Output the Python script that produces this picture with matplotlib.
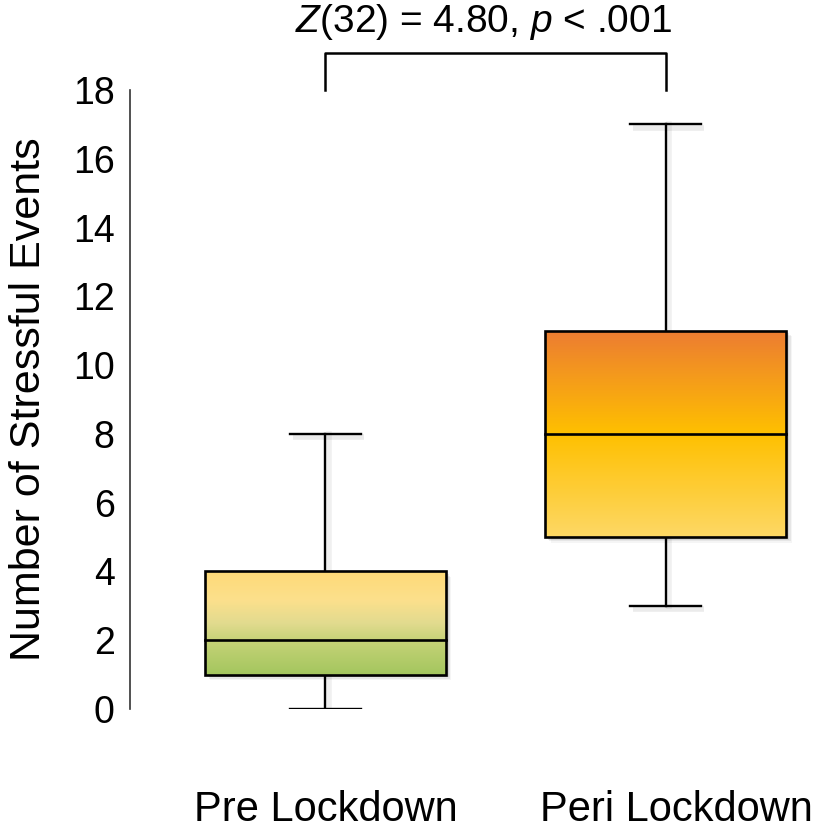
import numpy as np
import matplotlib
matplotlib.use("Agg")
import matplotlib.pyplot as plt
import matplotlib.transforms as mtransforms
from matplotlib.patches import Rectangle
from matplotlib.colors import LinearSegmentedColormap

plt.rcParams['font.family'] = ['Liberation Sans', 'DejaVu Sans']
plt.rcParams['mathtext.fontset'] = 'custom'
plt.rcParams['mathtext.rm'] = 'Liberation Sans'
plt.rcParams['mathtext.it'] = 'Liberation Sans:italic'

# box statistics
groups = ["Pre Lockdown", "Peri Lockdown"]
whisker_low = [0, 3]
q1 = [1, 5]
median = [2, 8]
q3 = [4, 11]
whisker_high = [8, 17]
stat_text = r"$Z$(32) = 4.80, $p$ < .001"

# gradient stops (bottom -> top) for each box
gradients = [
    [(0.0, "#A3C65E"), (0.33, "#C6D277"), (0.5, "#E2DB8F"), (0.72, "#FCE08C"), (1.0, "#FFDA78")],
    [(0.0, "#FDD865"), (0.5, "#FFC000"), (1.0, "#EC7C32")],
]

fig = plt.figure(figsize=(8.14, 8.31), dpi=100)
ax = fig.add_axes([130 / 814, 122 / 831, 1 - 130 / 814, (709 - 90) / 831])

box_w = 0.708
cap_w = 0.208
positions = [1, 2]
label_shift = [0.0, 0.032]

for i, x in enumerate(positions):
    x0 = x - box_w / 2
    # soft drop shadow
    for k, a in zip(range(1, 5), [0.10, 0.08, 0.06, 0.04]):
        ax.add_patch(Rectangle((x0 + 0.004 * k, q1[i] - 0.04 * k), box_w, q3[i] - q1[i],
                               facecolor="black", edgecolor="none", alpha=a, zorder=1))
    for yy in [whisker_low[i], whisker_high[i]]:
        ax.plot([x - cap_w / 2 + 0.008, x + cap_w / 2 + 0.008], [yy - 0.1, yy - 0.1],
                color="black", alpha=0.08, lw=4, zorder=1, solid_capstyle="butt")
    ax.plot([x + 0.01, x + 0.01], [whisker_low[i], whisker_high[i]], color="black",
            alpha=0.06, lw=4, zorder=1)

    # whiskers
    ax.plot([x, x], [whisker_low[i], q1[i]], color="black", lw=1.7, zorder=2)
    ax.plot([x, x], [q3[i], whisker_high[i]], color="black", lw=1.7, zorder=2)
    ax.plot([x - cap_w / 2, x + cap_w / 2], [whisker_low[i]] * 2, color="black", lw=1.7, zorder=2)
    ax.plot([x - cap_w / 2, x + cap_w / 2], [whisker_high[i]] * 2, color="black", lw=1.7, zorder=2)

    # gradient-filled box
    cmap = LinearSegmentedColormap.from_list(f"g{i}", gradients[i])
    grad = np.linspace(0, 1, 256).reshape(-1, 1)
    im = ax.imshow(grad, cmap=cmap, extent=[x0, x0 + box_w, q1[i], q3[i]],
                   origin="lower", aspect="auto", zorder=3)
    rect = Rectangle((x0, q1[i]), box_w, q3[i] - q1[i], facecolor="none",
                     edgecolor="black", lw=1.9, zorder=4)
    ax.add_patch(rect)
    im.set_clip_path(rect)
    ax.plot([x0, x0 + box_w], [median[i]] * 2, color="black", lw=1.9, zorder=5)

# group labels under the axis
trans = mtransforms.blended_transform_factory(ax.transData, fig.transFigure)
for i, x in enumerate(positions):
    ax.text(x + label_shift[i], 1 / 831, groups[i], transform=trans, ha="center",
            va="bottom", fontsize=30, clip_on=False)

# significance bracket
bx = [1, 1, 2, 2]
by = [18, 19.07, 19.07, 18]
ax.plot(bx, by, color="black", lw=1.8, clip_on=False, solid_joinstyle="round")
ax.text(1.465, 19.69, stat_text, ha="center", va="baseline", fontsize=28, clip_on=False)

ax.set_xlim(0.426, 2.435)
ax.set_ylim(0, 18)
ax.set_yticks(range(0, 19, 2))
ax.set_xticks([])
ax.tick_params(axis="y", length=0, pad=11, labelsize=27)
ax.set_ylabel("Number of Stressful Events", fontsize=31, labelpad=17)
for s in ["top", "right", "bottom"]:
    ax.spines[s].set_visible(False)
ax.spines["left"].set_color("#333333")
ax.spines["left"].set_linewidth(1.2)

fig.savefig("out.png", dpi=100)
